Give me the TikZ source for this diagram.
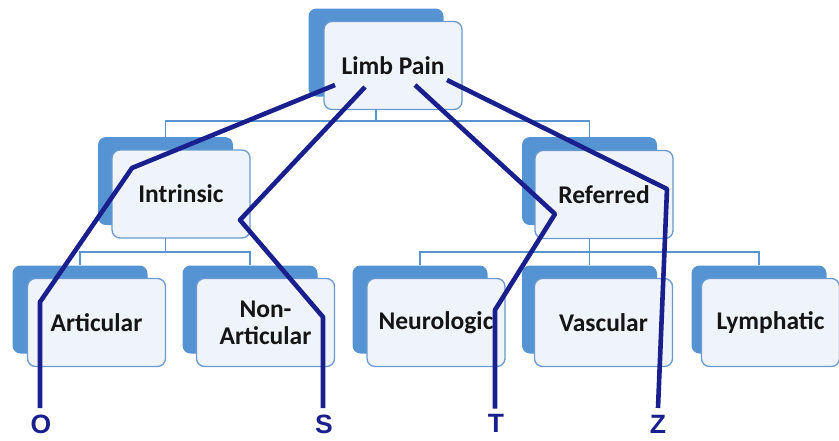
\documentclass[tikz,border=0pt]{standalone}
\usepackage{fontspec}
\setmainfont{Carlito}
\newfontfamily\labelfont{Liberation Sans}
\definecolor{backblue}{HTML}{5593D3}
\definecolor{frontfill}{HTML}{EFF3FA}
\definecolor{frontedge}{HTML}{6A9AD0}
\definecolor{treeblue}{HTML}{5B95CF}
\definecolor{navy}{HTML}{1A1F8E}
\definecolor{cardtext}{HTML}{151515}
\begin{document}
\begin{tikzpicture}[x=1pt,y=-1pt,
  backbox/.style={fill=backblue, draw=none, rounded corners=8pt,
    minimum width=135pt, minimum height=88pt, inner sep=0pt},
  frontbox/.style={fill=frontfill, draw=frontedge, line width=1.3pt,
    rounded corners=8pt, minimum width=138pt, minimum height=88pt,
    inner sep=0pt, align=center, text=cardtext,
    font=\fontsize{25.5}{27}\selectfont\bfseries},
  tree/.style={draw=treeblue, line width=1.4pt},
  mark line/.style={draw=navy, line width=4.6pt, line join=round},
  letter/.style={text=navy, font=\labelfont\fontsize{26.5}{27}\selectfont\bfseries,
    inner sep=0pt, anchor=north}
]
\useasboundingbox (0,0) rectangle (839,440);

% back cards
\node[backbox] (lpb) at (376,52.5) {};
\node[backbox] (inb) at (165.5,181) {};
\node[backbox] (rfb) at (589.5,181) {};
\node[backbox] (arb) at (80,309.5) {};
\node[backbox] (nab) at (250,309.5) {};
\node[backbox] (neb) at (420,309.5) {};
\node[backbox] (vab) at (589.5,309.5) {};
\node[backbox] (lyb) at (759,309.5) {};

% hierarchy connectors
\coordinate (j1) at (376,121);
\coordinate (j2) at (165.5,252);
\coordinate (j3) at (589.5,252);
\draw[tree] (lpb.center) -- (j1);
\draw[tree] (inb.north) |- (j1) -| (rfb.north);
\draw[tree] (inb.center) -- (j2);
\draw[tree] (arb.north) |- (j2) -| (nab.north);
\draw[tree] (rfb.center) -- (j3);
\draw[tree] (neb.north) |- (j3) -| (lyb.north);
\draw[tree] (j3) -- (vab.north);

% front cards
\node[frontbox] (lp) at (393,65.5) {Limb Pain};
\node[frontbox] (in) at (181,194) {Intrinsic};
\node[frontbox] (rf) at (604,194.5) {Referred};
\node[frontbox] (ar) at (96.5,322.5) {Articular};
\node[frontbox] (na) at (265.5,322.5) {Non-\\Articular};
\node[frontbox] (ne) at (436,322.5) {Neurologic};
\node[frontbox] (va) at (603.5,322.5) {Vascular};
\node[frontbox] (ly) at (770.5,322.5) {Lymphatic};

% letter labels
\node[letter] (O) at (41,415) {O};
\node[letter] (S) at (324,415) {S};
\node[letter] (T) at (496,414.5) {T};
\node[letter] (Z) at (658,415) {Z};

% marked paths
\coordinate (o0) at (335,85);
\coordinate (o1) at (132,168);
\coordinate (o2) at (40,302);
\coordinate (s0) at (365,87);
\coordinate (s1) at (240,220);
\coordinate (s2) at (323,317);
\coordinate (t0) at (415,85);
\coordinate (t1) at (555,214);
\coordinate (t2) at (495,310);
\coordinate (z0) at (447,80);
\coordinate (z1) at (667,189);
\draw[mark line] (o0) -- (o1) -- (o2) -- ([yshift=7pt]O.north -| o2);
\draw[mark line] (s0) -- (s1) -- (s2) -- ([yshift=7pt]S.north -| s2);
\draw[mark line] (t0) -- (t1) -- (t2) -- ([yshift=6pt]T.north -| t2);
\draw[mark line] (z0) -- (z1) -- ([yshift=7pt]Z.north);
\end{tikzpicture}
\end{document}
